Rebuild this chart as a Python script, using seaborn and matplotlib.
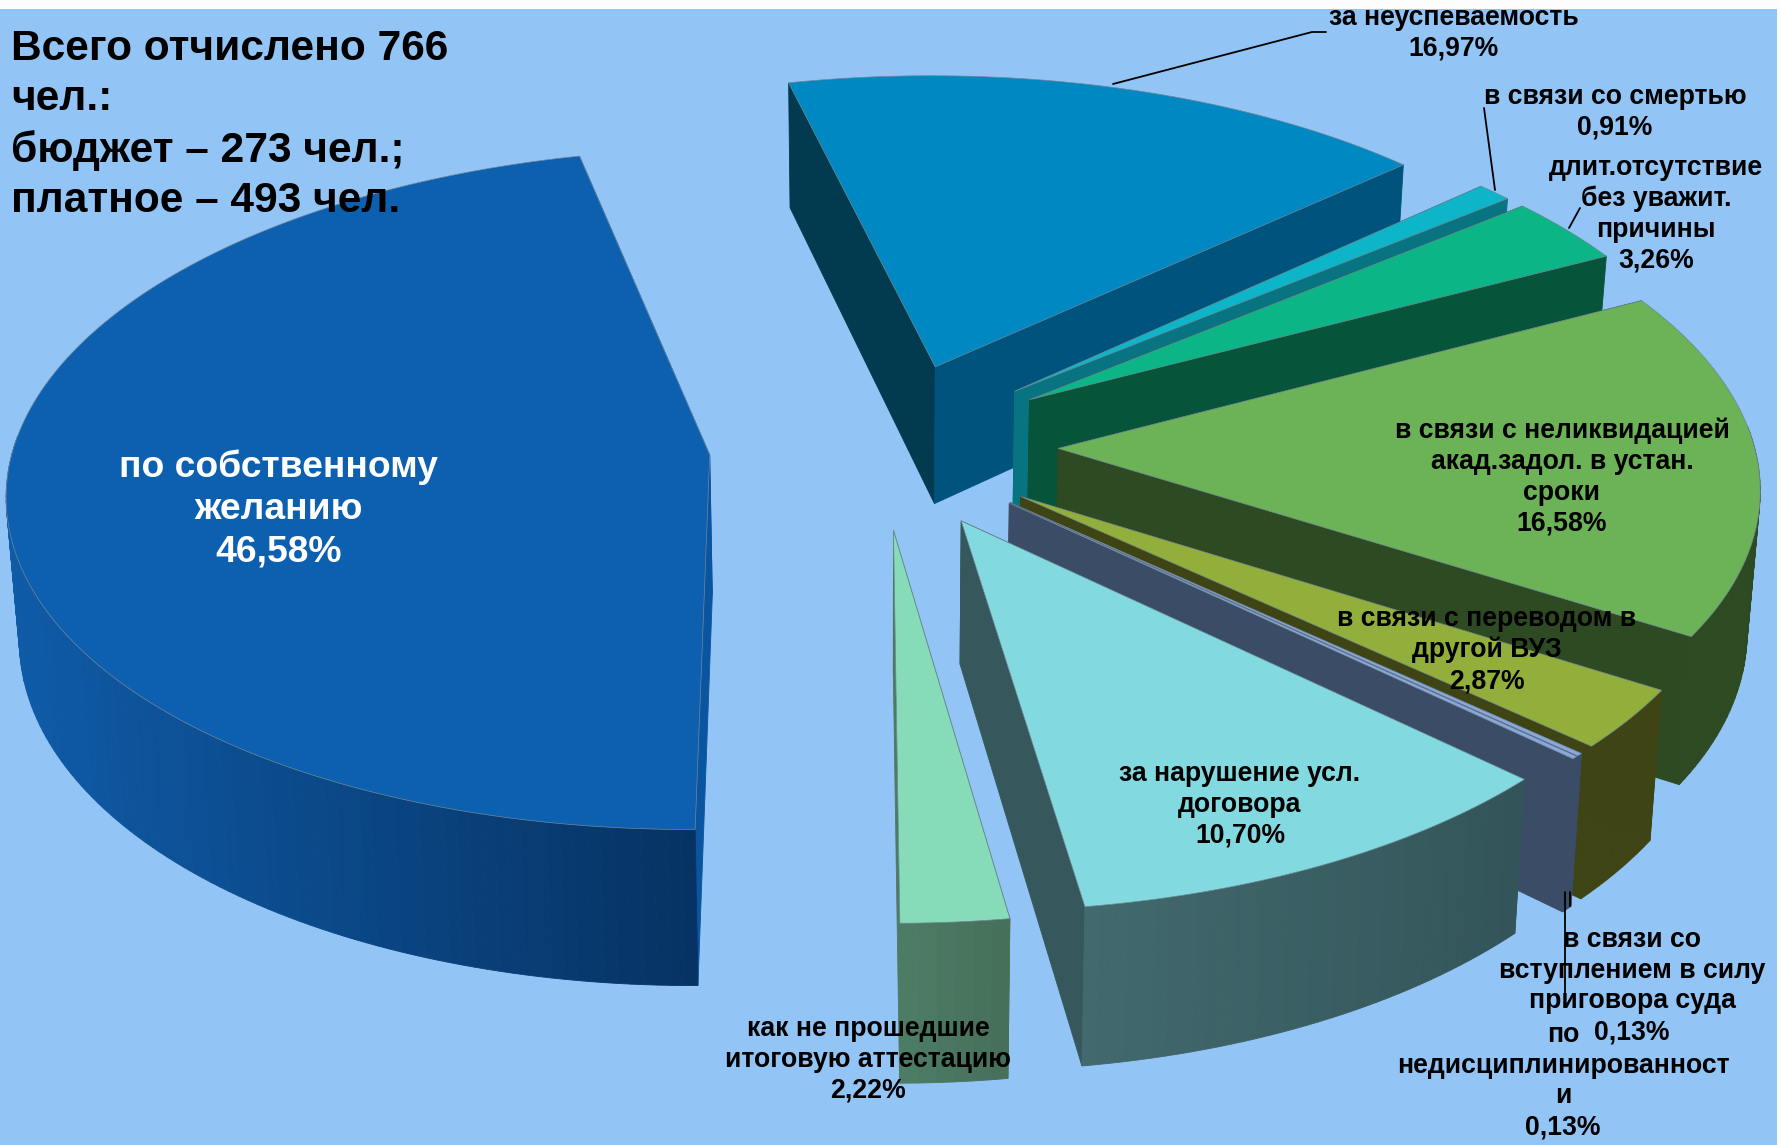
from matplotlib import pyplot as plt
from matplotlib.colors import to_rgb
import seaborn as sns
import numpy as np

categories = [
    "по собственному\nжеланию",
    "за неуспеваемость",
    "в связи со смертью",
    "длит.отсутствие\nбез уважит.\nпричины",
    "в связи с неликвидацией\nакад.задол. в устан.\nсроки",
    "в связи с переводом в\nдругой ВУЗ",
    "в связи со\nвступлением в силу\nприговора суда",
    "по\nнедисциплинированност\nи",
    "за нарушение усл.\nдоговора",
    "как не прошедшие\nитоговую аттестацию",
]
shares = [46.58, 16.97, 0.91, 3.26, 16.58, 2.87, 0.13, 0.13, 10.70, 2.22]
heading = "Всего отчислено 766\nчел.:\nбюджет – 273 чел.;\nплатное – 493 чел."

top_colors = ["#0D5FB0", "#0088C2", "#0DB5C8", "#0CB585", "#6CB257",
              "#92AF3C", "#8BA8DE", "#8BA8DE", "#82DAE0", "#86DCB8"]
start_wall = ["#0B55A0", "#023A50", "#077080", "#06543A", "#2E4A22",
              "#3F4415", "#3A4C66", "#3A4C66", "#36585C", "#4C7A62"]
end_wall = ["#0B55A0", "#00537C", "#087482", "#06543A", "#2E4A22",
            "#3F4415", "#3A4C66", "#3A4C66", "#36585C", "#4C7A62"]
rim_from = ["#0F5BA8", "#00537C", "#087482", "#06543A", "#2E4A22",
            "#3F4415", "#3A4C66", "#3A4C66", "#426A6E", "#4F7E66"]
rim_to = ["#063363", "#00537C", "#087482", "#06543A", "#2E4A22",
          "#3F4415", "#3A4C66", "#3A4C66", "#33555A", "#46705A"]

# label centres in px, (x, y)
label_pos = [(279, 509), (1454, 33), (1615, 112), (1656, 214), (1562, 477),
             (1487, 650), (1632, 986), (1563, 1081), (1240, 805), (868, 1060)]
label_color = ["white"] + ["black"] * 9
label_size = [26.8] + [19.2] * 9
label_spacing = [1.27] + [1.235] * 9

leaders = [
    ([1113, 1312, 1326], [84, 32, 32]),
    ([1495, 1484], [190, 108]),
    ([1569, 1580], [228, 208]),
    ([1570, 1570], [892, 906]),
    ([1565, 1565], [892, 997]),
]

cx, cy = 883, 445
rx, ry = 696, 335
depth = 140
persp = 0.1
shrink = 0.015
explode = 0.25
first_angle = 270.35
shift_x = [0, 2, 2, 3, 1, -3, -3, -3, -4, -3]


def project(x, y):
    w = 1 + persp * y
    return cx + rx * x / w, cy - ry * y / w, depth / w


def lower(px):
    return cx + (px - cx) * (1 - shrink)


def wedge(a1, a2, dx):
    mid = np.radians((a1 + a2) / 2)
    ox, oy = explode * np.cos(mid), explode * np.sin(mid)
    t = np.radians(np.linspace(a1, a2, max(int(abs(a2 - a1)), 3)))
    apex = project(ox, oy)
    rim = project(ox + np.cos(t), oy + np.sin(t))
    return (apex[0] + dx, apex[1], apex[2]), (rim[0] + dx, rim[1], rim[2]), t


def draw_wall(ax, p, q, color):
    xs = [p[0], q[0], lower(q[0]), lower(p[0])]
    ys = [p[1], q[1], q[1] + q[2], p[1] + p[2]]
    ax.fill(xs, ys, color=color, lw=0.6, zorder=2)


sns.set_theme(style="white")
plt.rcParams["font.family"] = ["Liberation Sans", "DejaVu Sans"]

fig, ax = plt.subplots(figsize=(17.81, 11.45), dpi=100)
fig.subplots_adjust(0, 0, 1, 1)
ax.set_xlim(0, 1781)
ax.set_ylim(1145, 0)
ax.axis("off")
fig.patch.set_facecolor("white")
ax.fill([0, 1777, 1777, 0], [9, 9, 1145, 1145], color="#92C4F5", lw=0, zorder=0)

fractions = np.array(shares) / sum(shares)
ends = first_angle - np.cumsum(fractions) * 360
starts = np.r_[first_angle, ends[:-1]]
mids = (starts + ends) / 2
palette = sns.color_palette(top_colors)

# back slices first, so the nearer ones cover them
order = np.argsort(-np.sin(np.radians(mids)))
for i in order:
    apex, (rim_x, rim_y, rim_z), t = wedge(starts[i], ends[i], shift_x[i])
    first = (rim_x[0], rim_y[0], rim_z[0])
    last = (rim_x[-1], rim_y[-1], rim_z[-1])
    draw_wall(ax, apex, first, start_wall[i])
    draw_wall(ax, apex, last, end_wall[i])

    c0, c1 = np.array(to_rgb(rim_from[i])), np.array(to_rgb(rim_to[i]))
    span = max(rim_x.max() - rim_x.min(), 1)
    for k in range(len(rim_x) - 1):
        # the back of the rim is hidden by the slice's own top
        if np.sin(t[k]) > 0.05 and np.sin(t[k + 1]) > 0.05:
            continue
        f = (rim_x[k] - rim_x.min()) / span
        col = c0 + (c1 - c0) * f
        draw_wall(ax, (rim_x[k], rim_y[k], rim_z[k]),
                  (rim_x[k + 1], rim_y[k + 1], rim_z[k + 1]), col)

    ax.fill(np.r_[apex[0], rim_x], np.r_[apex[1], rim_y], facecolor=palette[i],
            edgecolor="#6F8795", lw=0.5, zorder=2)

for xs, ys in leaders:
    ax.plot(xs, ys, color="black", lw=1.3, zorder=3)

for i, name in enumerate(categories):
    text = name + "\n" + f"{shares[i]:.2f}".replace(".", ",") + "%"
    ax.text(label_pos[i][0], label_pos[i][1], text, color=label_color[i],
            fontsize=label_size[i], fontweight="bold", ha="center", va="center",
            linespacing=label_spacing[i], zorder=4)

ax.text(11, 125, heading, fontsize=30.6, fontweight="bold", color="black",
        ha="left", va="center", linespacing=1.33, zorder=4)

# white page edge on top of the clipped label
ax.fill([0, 1781, 1781, 0], [0, 0, 9, 9], color="#FDFDFD", lw=0, zorder=5)

fig.savefig("out.png", dpi=100)
